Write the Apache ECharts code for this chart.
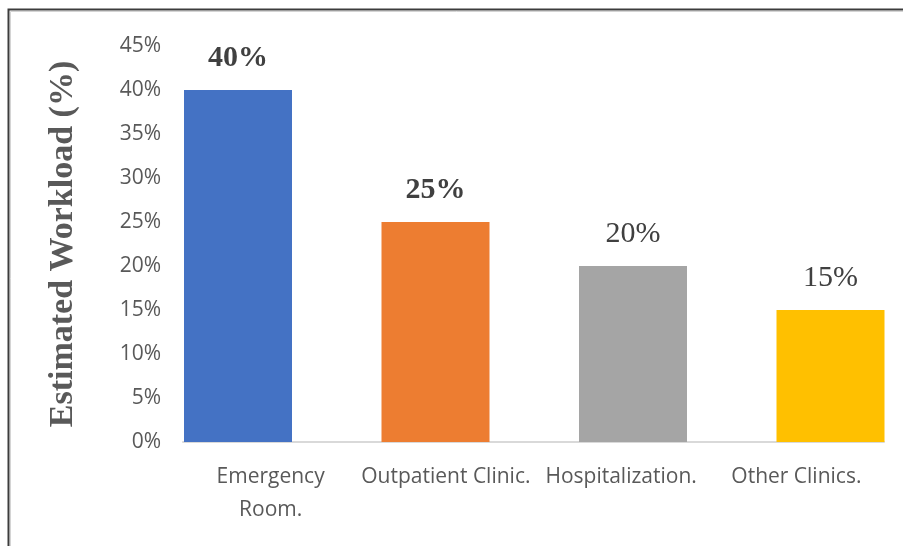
<!DOCTYPE html>
<html>
<head>
<meta charset="utf-8">
<style>
  html, body { margin: 0; padding: 0; background: #ffffff; }
  #chart { width: 903px; height: 546px; }
</style>
<script src="https://cdn.jsdelivr.net/npm/echarts@6/dist/echarts.min.js"></script>
</head>
<body>
<div id="chart"></div>
<script>
// Workload share by service area
const categories = ['Emergency\nRoom.', 'Outpatient Clinic.', 'Hospitalization.', 'Other Clinics.'];
const workload = [40, 25, 20, 15];
const yTicks = { min: 0, max: 45, interval: 5 };
const yTitle = 'Estimated Workload (%)';

// styling
const barColors = ['#4472C4', '#ED7D31', '#A5A5A5', '#FFC000'];
const labelWeights = ['bold', 'bold', 'normal', 'normal'];
const sansFont = "'Open Sans', 'Noto Sans', sans-serif";
const serifFont = "'Times New Roman', 'Liberation Serif', serif";

const chart = echarts.init(document.getElementById('chart'), null, { renderer: 'canvas' });

const barData = workload.map((v, i) => ({
  value: v,
  itemStyle: { color: barColors[i] },
  label: { fontWeight: labelWeights[i] }
}));

const option = {
  animation: false,
  backgroundColor: '#ffffff',
  grid: [
    // bars: category points sit on the tick positions
    { left: 238, right: 72.5, top: 46, bottom: 104, containLabel: false },
    // axes, labels and baseline
    { left: 183, right: 19, top: 46, bottom: 104, containLabel: false }
  ],
  xAxis: [
    {
      gridIndex: 0, type: 'category', data: categories, boundaryGap: false,
      axisLine: { show: false }, axisTick: { show: false }, axisLabel: { show: false }
    },
    {
      gridIndex: 1, type: 'category', data: categories,
      axisLine: { show: true, lineStyle: { color: '#d9d9d9', width: 2 } },
      axisTick: { show: false },
      axisLabel: {
        show: true, interval: 0, margin: 19,
        color: '#595959', fontFamily: sansFont, fontSize: 21, lineHeight: 33
      }
    }
  ],
  yAxis: [
    {
      gridIndex: 0, type: 'value', min: yTicks.min, max: yTicks.max, interval: yTicks.interval,
      show: false, splitLine: { show: false }
    },
    {
      gridIndex: 1, type: 'value', min: yTicks.min, max: yTicks.max, interval: yTicks.interval,
      axisLine: { show: false }, axisTick: { show: false }, splitLine: { show: false },
      axisLabel: {
        margin: 22, color: '#595959', fontFamily: sansFont, fontSize: 21,
        formatter: '{value}%'
      },
      name: yTitle, nameLocation: 'middle', nameGap: 103,
      nameTextStyle: {
        color: '#595959', fontFamily: serifFont, fontWeight: 'bold', fontSize: 34
      }
    }
  ],
  series: [
    {
      type: 'bar', xAxisIndex: 0, yAxisIndex: 0,
      data: barData, barWidth: 108,
      label: {
        show: true, position: 'top', distance: 17,
        formatter: p => p.value + '%',
        color: '#404040', fontFamily: serifFont, fontSize: 30
      }
    }
  ],
  graphic: [
    // outer frame (left and top edges)
    { type: 'polyline', silent: true, z: 100,
      shape: { points: [[8.5, 546], [8.5, 9.5], [903, 9.5]] },
      style: { stroke: '#3c3c3c', lineWidth: 2, fill: null } },
    { type: 'polyline', silent: true, z: 100,
      shape: { points: [[10.5, 546], [10.5, 11.5], [903, 11.5]] },
      style: { stroke: '#d4d4d4', lineWidth: 1, fill: null } }
  ]
};

chart.setOption(option);
</script>
</body>
</html>
